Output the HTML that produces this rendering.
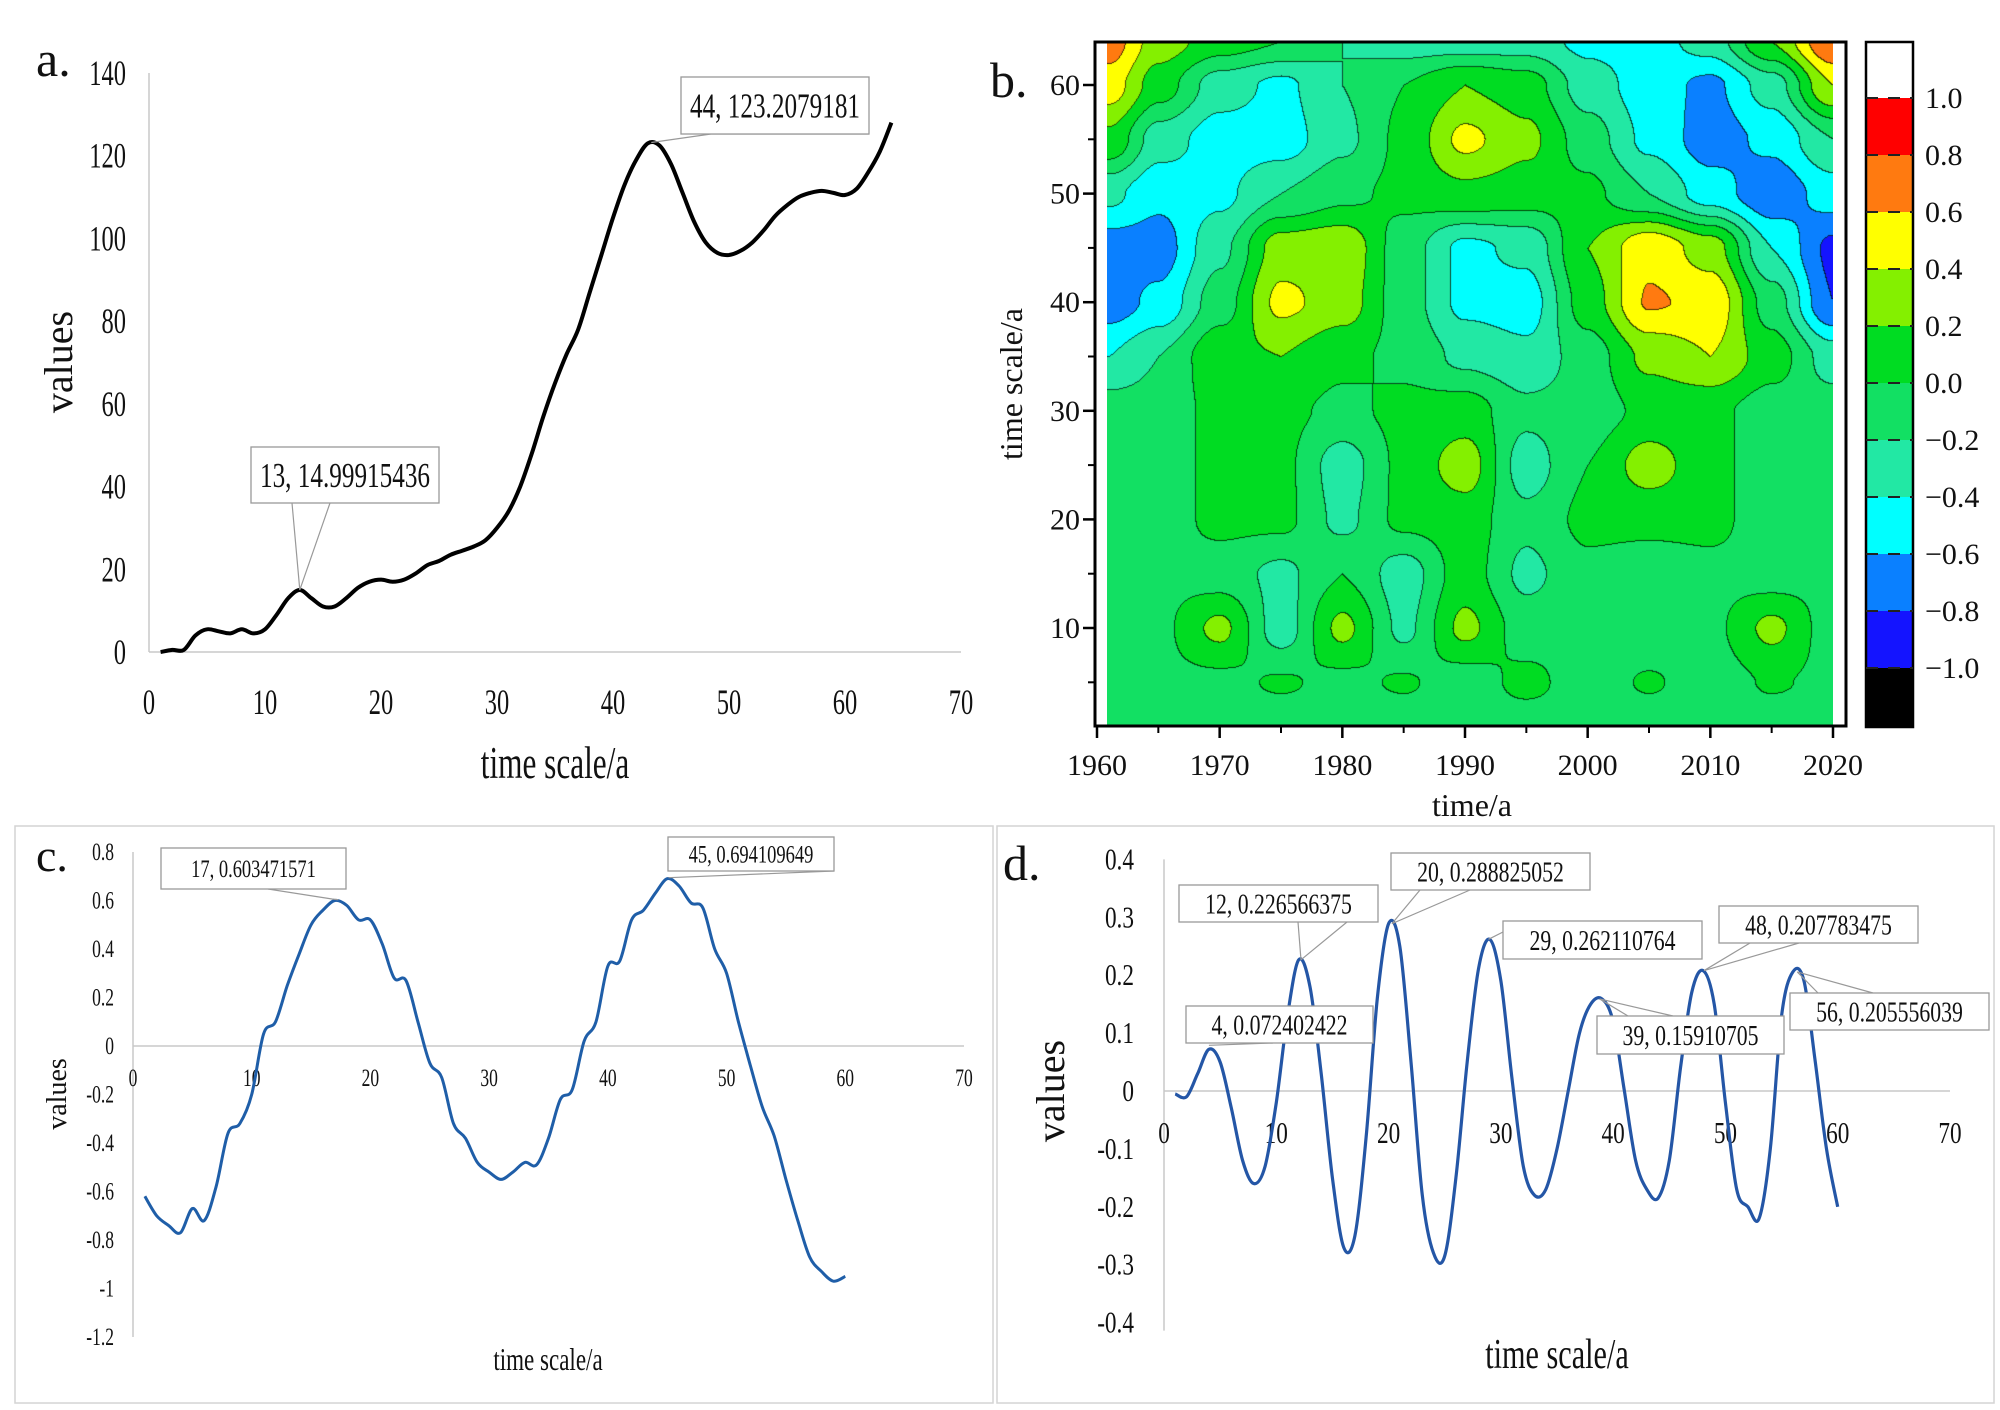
<!DOCTYPE html>
<html><head><meta charset="utf-8">
<style>
html,body{margin:0;padding:0;background:#fff;}
#wrap{position:relative;width:2000px;height:1410px;overflow:hidden;}
svg{position:absolute;left:0;top:0;}
#heat{position:absolute;left:1107px;top:42px;}
text{font-family:"Liberation Serif","DejaVu Serif",serif;fill:#111;}
</style></head>
<body>
<div id="wrap">
<canvas id="heat" width="726" height="684"></canvas>
<svg id="svg" width="2000" height="1410"></svg>
</div>
<script>
// ---------- Panel a data ----------
const aX = [1,2,3,4,5,6,7,8,9,10,11,12,13,14,15,16,17,18,19,20,21,22,23,24,25,26,27,28,29,30,31,32,33,34,35,36,37,38,39,40,41,42,43,44,45,46,47,48,49,50,51,52,53,54,55,56,57,58,59,60,61,62,63,64];
const aY = [0,0.5,0.5,4,5.5,5,4.5,5.5,4.5,5.5,9,13,15,13,11,11,13,15.5,17,17.5,17,17.5,19,21,22,23.5,24.5,25.5,27,30,34,40,48,57,65,72,78,87,96,105,113,119,123,122.5,118,111,104,99,96.5,96,97,99,102,105.5,108,110,111,111.5,111,110.5,112,116,121,128];
const aYTicks = [0,20,40,60,80,100,120,140];
const aXTicks = [0,10,20,30,40,50,60,70];
// ---------- Panel c data ----------
const cX = [1,2,3,4,5,6,7,8,9,10,11,12,13,14,15,16,17,18,19,20,21,22,23,24,25,26,27,28,29,30,31,32,33,34,35,36,37,38,39,40,41,42,43,44,45,46,47,48,49,50,51,52,53,54,55,56,57,58,59,60];
const cY = [-0.62,-0.70,-0.74,-0.77,-0.67,-0.72,-0.58,-0.36,-0.32,-0.2,0.05,0.1,0.25,0.38,0.5,0.56,0.60,0.58,0.52,0.52,0.42,0.28,0.27,0.1,-0.07,-0.13,-0.32,-0.38,-0.48,-0.52,-0.55,-0.52,-0.48,-0.49,-0.38,-0.22,-0.18,0.02,0.1,0.33,0.35,0.52,0.56,0.63,0.69,0.66,0.59,0.57,0.4,0.3,0.1,-0.08,-0.25,-0.37,-0.55,-0.72,-0.87,-0.93,-0.97,-0.95];
const cYTicks = [0.8,0.6,0.4,0.2,0,-0.2,-0.4,-0.6,-0.8,-1,-1.2];
const cYLabels = ["0.8","0.6","0.4","0.2","0","-0.2","-0.4","-0.6","-0.8","-1","-1.2"];
const cXTicks = [0,10,20,30,40,50,60,70];
// ---------- Panel d data ----------
const dX = [1,2,3,4,5,6,7,8,9,10,11,12,13,14,15,16,17,18,19,20,21,22,23,24,25,26,27,28,29,30,31,32,33,34,35,36,37,38,39,40,41,42,43,44,45,46,47,48,49,50,51,52,53,54,55,56,57,58,59,60];
const dY = [-0.005,-0.01,0.03,0.072,0.05,-0.03,-0.12,-0.16,-0.13,-0.02,0.13,0.2266,0.18,0.03,-0.15,-0.27,-0.25,-0.08,0.16,0.289,0.25,0.05,-0.18,-0.28,-0.285,-0.15,0.05,0.21,0.262,0.19,0.02,-0.13,-0.18,-0.17,-0.1,0.0,0.1,0.15,0.159,0.12,0.0,-0.12,-0.17,-0.185,-0.12,0.04,0.17,0.208,0.15,-0.02,-0.17,-0.2,-0.22,-0.1,0.13,0.2056,0.19,0.05,-0.1,-0.2];
const dYTicks = [0.4,0.3,0.2,0.1,0,-0.1,-0.2,-0.3,-0.4];
const dYLabels = ["0.4","0.3","0.2","0.1","0","-0.1","-0.2","-0.3","-0.4"];
const dXTicks = [0,10,20,30,40,50,60,70];
// ---------- Panel b data (wavelet coefficient grid) ----------
const bYears = [1961,1965,1970,1975,1980,1985,1990,1995,2000,2005,2010,2015,2020];
const bScales = [64,60,55,50,45,40,35,30,25,20,15,10,5,1];
const bRow64 = [0.7,0.3,0.1,0.0,-0.2,-0.3,-0.3,-0.3,-0.45,-0.5,-0.3,0.2,0.8];
const bRow60 = [0.5,0.1,-0.3,-0.45,-0.2,0.0,0.2,0.1,-0.3,-0.5,-0.65,-0.3,0.4];
const bRow55 = [0.15,-0.3,-0.5,-0.5,-0.25,0.05,0.45,0.25,-0.1,-0.45,-0.7,-0.55,-0.2];
const bRow50 = [-0.35,-0.55,-0.45,-0.2,-0.05,0.05,0.15,0.1,0.05,-0.2,-0.5,-0.75,-0.5];
const bRow45 = [-0.7,-0.7,-0.25,0.3,0.35,-0.1,-0.45,-0.35,0.2,0.55,0.3,-0.4,-0.85];
const bRow40 = [-0.7,-0.55,-0.1,0.45,0.3,-0.1,-0.45,-0.5,0.1,0.62,0.55,-0.1,-0.8];
const bRow35 = [-0.4,-0.2,0.15,0.2,0.05,-0.05,-0.25,-0.35,-0.1,0.25,0.4,0.1,-0.3];
const bRow30 = [-0.1,-0.1,0.05,0.05,-0.05,0.05,0.1,-0.15,-0.1,0.05,0.05,-0.1,-0.1];
const bRow25 = [-0.1,-0.1,0.05,0.05,-0.3,0.05,0.3,-0.3,0.0,0.3,0.05,-0.1,-0.1];
const bRow20 = [-0.1,-0.1,0.05,0.05,-0.25,0.05,0.1,-0.15,0.05,0.05,0.05,-0.1,-0.1];
const bRow15 = [-0.05,-0.05,-0.1,-0.25,0.0,-0.3,0.1,-0.25,-0.05,-0.1,-0.05,-0.1,-0.05];
const bRow10 = [-0.1,-0.05,0.25,-0.3,0.25,-0.25,0.25,-0.1,-0.05,-0.15,-0.05,0.25,-0.1];
const bRow5 = [-0.1,-0.05,-0.05,0.02,-0.05,0.02,-0.1,0.05,-0.1,0.02,-0.1,0.02,-0.05];
const bRow1 = [-0.1,-0.1,-0.1,-0.1,-0.1,-0.1,-0.1,-0.1,-0.1,-0.1,-0.1,-0.1,-0.1];
const bXTicks = [1960,1970,1980,1990,2000,2010,2020];
const bYTicks = [10,20,30,40,50,60];
const cbLevels = [1.0,0.8,0.6,0.4,0.2,0.0,-0.2,-0.4,-0.6,-0.8,-1.0];
const cbLabels = ["1.0","0.8","0.6","0.4","0.2","0.0","\u22120.2","\u22120.4","\u22120.6","\u22120.8","\u22121.0"];

const NS = "http://www.w3.org/2000/svg";
const svg = document.getElementById('svg');
function mk(tag, attrs, name, parent){
  const el = document.createElementNS(NS, tag);
  for (const k in attrs) el.setAttribute(k, attrs[k]);
  
  
  (parent||svg).appendChild(el);
  return el;
}
function txt(x, y, s, size, anchor, sx, name, rot){
  const el = document.createElementNS(NS, 'text');
  let tr = 'translate(' + x + ',' + y + ')';
  if (rot) tr += ' rotate(' + rot + ')';
  tr += ' scale(' + sx + ',1)';
  el.setAttribute('transform', tr);
  el.setAttribute('font-size', size);
  el.setAttribute('text-anchor', anchor);
  el.textContent = s;
  
  
  svg.appendChild(el);
  return el;
}
function smooth(pts){
  let d = 'M' + pts[0][0].toFixed(1) + ',' + pts[0][1].toFixed(1);
  for (let i = 0; i < pts.length - 1; i++){
    const p0 = pts[Math.max(i-1,0)], p1 = pts[i], p2 = pts[i+1], p3 = pts[Math.min(i+2, pts.length-1)];
    const c1x = p1[0] + (p2[0]-p0[0])/6, c1y = p1[1] + (p2[1]-p0[1])/6;
    const c2x = p2[0] - (p3[0]-p1[0])/6, c2y = p2[1] - (p3[1]-p1[1])/6;
    d += ' C' + c1x.toFixed(1) + ',' + c1y.toFixed(1) + ' ' + c2x.toFixed(1) + ',' + c2y.toFixed(1) + ' ' + p2[0].toFixed(1) + ',' + p2[1].toFixed(1);
  }
  return d;
}
function callout(bx, by, bw, bh, label, size, sx, lines, name){
  lines.forEach(function(l){
    mk('polyline', {points: l.map(p=>p.join(',')).join(' '), fill:'none', stroke:'#999', 'stroke-width':1.2}, name + '-leader');
  });
  mk('rect', {x:bx, y:by, width:bw, height:bh, fill:'#fff', stroke:'#999', 'stroke-width':1.3}, name + '-box');
  txt(bx + bw/2, by + bh/2 + size*0.34, label, size, 'middle', sx, name + '-text');
}

// ================= Panel a =================
const ax = v => 149 + (v/70) * (961-149);
const ay = v => 652 - (v/140) * (652-73);
mk('line', {x1:149, y1:73, x2:149, y2:652, stroke:'#c8c8c8', 'stroke-width':1.5}, 'a-y-axis');
mk('line', {x1:149, y1:652, x2:961, y2:652, stroke:'#c8c8c8', 'stroke-width':1.5}, 'a-x-axis');
aYTicks.forEach(t => txt(126, ay(t)+12, String(t), 36, 'end', 0.68, 'a-y-tick-label'));
aXTicks.forEach(t => txt(ax(t), 714, String(t), 36, 'middle', 0.68, 'a-x-tick-label'));
mk('path', {d: smooth(aX.map((x,i)=>[ax(x), ay(aY[i])])), fill:'none', stroke:'#000', 'stroke-width':4, 'stroke-linejoin':'round'}, 'a-series-line');
txt(555, 778, 'time scale/a', 46, 'middle', 0.68, 'a-x-axis-title');
txt(72, 362, 'values', 40, 'middle', 1, 'a-y-axis-title', -90);
txt(36, 76, 'a.', 50, 'start', 1, 'a-panel-label');
callout(681, 77, 188, 57, '44, 123.2079181', 35, 0.72, [[[ax(43.3),ay(123.2)],[711,134],[869,134]]], 'a-peak-44');
callout(251, 447, 188, 56, '13, 14.99915436', 35, 0.72, [[[292,503],[ax(13),ay(15)],[330,503]]], 'a-peak-13');

// ================= Panel b =================
const bx = v => 1097 + (v-1960)/60 * (1833-1097);
const by = v => 736.6 - v * 10.86;
const colors = ['#000000','#1414ff','#0a80ff','#00ffff','#22e8a4','#12e063','#00dc22','#84f000','#ffff00','#ff7a10','#ff0000','#ffffff'];
const rows = [bRow64,bRow60,bRow55,bRow50,bRow45,bRow40,bRow35,bRow30,bRow25,bRow20,bRow15,bRow10,bRow5,bRow1];
function sample(year, scale){
  let i = 0; while (i < bYears.length-2 && year > bYears[i+1]) i++;
  let j = 0; while (j < bScales.length-2 && scale < bScales[j+1]) j++;
  const tx = Math.min(1, Math.max(0, (year - bYears[i])/(bYears[i+1]-bYears[i])));
  const ty = Math.min(1, Math.max(0, (scale - bScales[j])/(bScales[j+1]-bScales[j])));
  const sx = tx*tx*(3-2*tx), sy = ty*ty*(3-2*ty);
  const v00 = rows[j][i], v10 = rows[j][i+1], v01 = rows[j+1][i], v11 = rows[j+1][i+1];
  return (v00*(1-sx)+v10*sx)*(1-sy) + (v01*(1-sx)+v11*sx)*sy;
}
function band(v){ let k = 0; for (let l = -1.0; l <= 1.0001; l += 0.2){ if (v > l) k++; } return k; }
(function(){
  const cv = document.getElementById('heat'), ctx = cv.getContext('2d');
  const W = cv.width, H = cv.height, img = ctx.createImageData(W, H);
  const bands = new Uint8Array(W*H);
  for (let py = 0; py < H; py++){
    const scale = (736.6 - (42+py)) / 10.86;
    for (let px = 0; px < W; px++){
      const year = 1960 + ((1107+px) - 1097)/(1833-1097)*60;
      bands[py*W+px] = band(sample(year, scale));
    }
  }
  for (let p = 0; p < W*H; p++){
    const x = p % W, y = (p / W) | 0;
    let c = colors[bands[p]];
    let edge = (x < W-1 && bands[p] !== bands[p+1]) || (y < H-1 && bands[p] !== bands[p+W]);
    const r = parseInt(c.substr(1,2),16), g = parseInt(c.substr(3,2),16), b = parseInt(c.substr(5,2),16);
    img.data[p*4] = edge ? r*0.3 : r; img.data[p*4+1] = edge ? g*0.3 : g; img.data[p*4+2] = edge ? b*0.3 : b; img.data[p*4+3] = 255;
  }
  ctx.putImageData(img, 0, 0);
})();
mk('rect', {x:1095, y:42, width:751, height:684, fill:'none', stroke:'#000', 'stroke-width':3}, 'b-plot-frame');
bXTicks.forEach(t => { mk('line', {x1:bx(t), y1:726, x2:bx(t), y2:738, stroke:'#000', 'stroke-width':2.5}, 'b-x-tick'); txt(bx(t), 775, String(t), 30, 'middle', 1, 'b-x-tick-label'); });
[1965,1975,1985,1995,2005,2015].forEach(t => mk('line', {x1:bx(t), y1:726, x2:bx(t), y2:733, stroke:'#000', 'stroke-width':2}, 'b-x-minor-tick'));
bYTicks.forEach(t => { mk('line', {x1:1083, y1:by(t), x2:1095, y2:by(t), stroke:'#000', 'stroke-width':2.5}, 'b-y-tick'); txt(1080, by(t)+10, String(t), 30, 'end', 1, 'b-y-tick-label'); });
[5,15,25,35,45,55].forEach(t => mk('line', {x1:1088, y1:by(t), x2:1095, y2:by(t), stroke:'#000', 'stroke-width':2}, 'b-y-minor-tick'));
txt(1472, 816, 'time/a', 32, 'middle', 1, 'b-x-axis-title');
txt(1022, 384, 'time scale/a', 32, 'middle', 1, 'b-y-axis-title', -90);
txt(990, 97, 'b.', 50, 'start', 1, 'b-panel-label');
const cbY = k => 98 + k * 57;
for (let k = 0; k < 12; k++){
  const top = k === 0 ? 42 : cbY(k-1);
  const bot = k === 11 ? 727 : cbY(k);
  mk('rect', {x:1866, y:top, width:47, height:bot-top, fill:colors[11-k]}, 'colorbar-band');
}
mk('rect', {x:1866, y:42, width:47, height:685, fill:'none', stroke:'#000', 'stroke-width':2.5}, 'colorbar-frame');
cbLevels.forEach((l,k) => { mk('line', {x1:1866, y1:cbY(k), x2:1913, y2:cbY(k), stroke:'#222', 'stroke-width':2, 'stroke-dasharray':'12,10'}, 'colorbar-level'); txt(1925, cbY(k)+10, cbLabels[k], 30, 'start', 1, 'colorbar-label'); });

// ================= Panel c =================
mk('rect', {x:15, y:826, width:978, height:577, fill:'none', stroke:'#d4d4d4', 'stroke-width':1.5}, 'c-panel-frame');
const cx = v => 133 + v/70 * (964-133);
const cy = v => 1046 - v/0.2 * 48.5;
mk('line', {x1:133, y1:cy(0.8), x2:133, y2:cy(-1.2), stroke:'#c8c8c8', 'stroke-width':1.5}, 'c-y-axis');
mk('line', {x1:133, y1:cy(0), x2:964, y2:cy(0), stroke:'#c8c8c8', 'stroke-width':1.5}, 'c-zero-line');
cYTicks.forEach((t,i) => txt(114, cy(t)+8, cYLabels[i], 25, 'end', 0.7, 'c-y-tick-label'));
cXTicks.forEach(t => txt(cx(t), 1086, String(t), 25, 'middle', 0.7, 'c-x-tick-label'));
mk('path', {d: smooth(cX.map((x,i)=>[cx(x), cy(cY[i])])), fill:'none', stroke:'#1f5ea8', 'stroke-width':3, 'stroke-linejoin':'round'}, 'c-series-line');
txt(548, 1370, 'time scale/a', 32, 'middle', 0.72, 'c-x-axis-title');
txt(66, 1094, 'values', 28, 'middle', 1, 'c-y-axis-title', -90);
txt(36, 871, 'c.', 46, 'start', 1, 'c-panel-label');
callout(161, 848, 185, 41, '17, 0.603471571', 25, 0.74, [[[268,889],[332,899],[cx(17.3),cy(0.603)]]], 'c-peak-17');
callout(668, 837, 166, 34, '45, 0.694109649', 25, 0.74, [[[834,871],[cx(45.1),cy(0.694)]]], 'c-peak-45');

// ================= Panel d =================
mk('rect', {x:997, y:826, width:997, height:577, fill:'none', stroke:'#d4d4d4', 'stroke-width':1.5}, 'd-panel-frame');
const dx = v => 1164 + v/70 * (1950-1164);
const dy = v => 1091 - v/0.1 * 57.9;
mk('line', {x1:1164, y1:dy(0.4), x2:1164, y2:dy(-0.4)+8, stroke:'#c8c8c8', 'stroke-width':1.5}, 'd-y-axis');
mk('line', {x1:1164, y1:dy(0), x2:1950, y2:dy(0), stroke:'#c8c8c8', 'stroke-width':1.5}, 'd-zero-line');
dYTicks.forEach((t,i) => txt(1134, dy(t)+10, dYLabels[i], 31, 'end', 0.75, 'd-y-tick-label'));
dXTicks.forEach(t => txt(dx(t), 1143, String(t), 31, 'middle', 0.75, 'd-x-tick-label'));
mk('path', {d: smooth(dX.map((x,i)=>[dx(x), dy(dY[i])])), fill:'none', stroke:'#2456a6', 'stroke-width':3.2, 'stroke-linejoin':'round'}, 'd-series-line');
txt(1557, 1368, 'time scale/a', 42, 'middle', 0.72, 'd-x-axis-title');
txt(1064, 1091, 'values', 40, 'middle', 1, 'd-y-axis-title', -90);
txt(1003, 880, 'd.', 50, 'start', 1, 'd-panel-label');
callout(1186, 1006, 187, 37, '4, 0.072402422', 29, 0.75, [[[dx(4),dy(0.072)-4],[1273,1043]]], 'd-peak-4');
callout(1179, 885, 199, 37, '12, 0.226566375', 29, 0.75, [[[1298,922],[dx(12.2),dy(0.2266)]],[[1347,922],[dx(12.2),dy(0.2266)]]], 'd-peak-12');
callout(1391, 853, 199, 37, '20, 0.288825052', 29, 0.75, [[[1420,890],[dx(20.3),dy(0.289)]],[[1470,890],[dx(20.3),dy(0.289)]]], 'd-peak-20');
callout(1503, 921, 199, 38, '29, 0.262110764', 29, 0.75, [[[1503,932],[dx(28.9),dy(0.262)]]], 'd-peak-29');
callout(1597, 1016, 187, 38, '39, 0.15910705', 29, 0.75, [[[1628,1016],[dx(38.8),dy(0.159)]],[[1673,1016],[dx(38.8),dy(0.159)]]], 'd-peak-39');
callout(1719, 906, 199, 37, '48, 0.207783475', 29, 0.75, [[[1750,943],[dx(48.1),dy(0.208)]],[[1799,943],[dx(48.1),dy(0.208)]]], 'd-peak-48');
callout(1790, 993, 199, 37, '56, 0.205556039', 29, 0.75, [[[1818,993],[dx(56.4),dy(0.2056)]],[[1873,993],[dx(56.4),dy(0.2056)]]], 'd-peak-56');
</script>
</body></html>
